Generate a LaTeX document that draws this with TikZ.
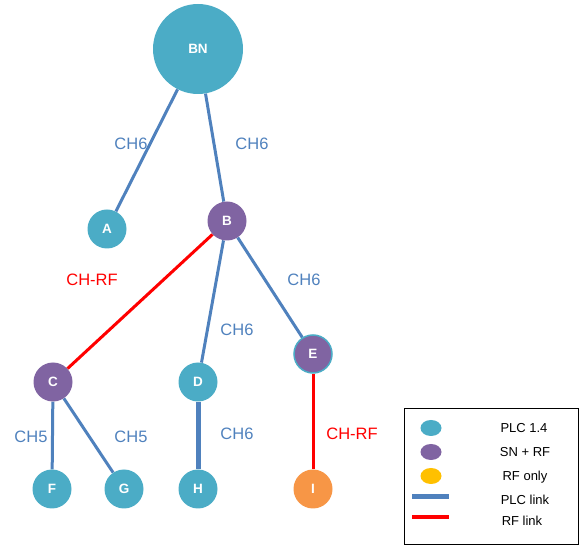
\documentclass[tikz,border=0pt]{standalone}
\usepackage{fontspec}
\setmainfont{Liberation Sans}
\usepackage{tikz}
\usetikzlibrary{shapes.geometric,positioning,backgrounds}
\definecolor{plcteal}{HTML}{4BACC6}
\definecolor{snpurple}{HTML}{8064A2}
\definecolor{rfyellow}{HTML}{FFC000}
\definecolor{rforange}{HTML}{F79646}
\definecolor{linkblue}{HTML}{4F81BD}
\tikzstyle{plclink} = [line width=3pt, linkblue]
\tikzstyle{rflink} = [line width=3pt, red]

\begin{document}
\begin{tikzpicture}
	[x=1pt, y=-1pt,
	plc/.style={circle, fill=plcteal, text=white, minimum size=39pt, inner sep=0pt, font=\bfseries\fontsize{13.5}{15}\selectfont},
	sn/.style={plc, fill=snpurple},
	rfonly/.style={plc, fill=rforange},
	chlabel/.style={text=linkblue, font=\fontsize{16.5}{19}\selectfont},
	rflabel/.style={text=red, font=\fontsize{16.5}{19}\selectfont},
	keytext/.style={font=\fontsize{13}{15}\selectfont},
	keydot/.style={ellipse, minimum width=21pt, minimum height=16pt, inner sep=0pt}]
	\useasboundingbox (0,0) rectangle (579,545);

	\node[plc, minimum size=90pt] (BN) at (198,49) {BN};
	\node[plc] (A) at (107,229) {A};
	\node[sn] (B) at (227,221) {B};
	\node[sn] (C) at (53,382) {C};
	\node[plc] (D) at (198,382) {D};
	\node[sn, draw=plcteal, line width=1.5pt, minimum size=38pt] (E) at (313,354) {E};
	\node[plc] (F) at (52,489) {F};
	\node[plc] (G) at (124,489) {G};
	\node[plc] (H) at (198,489) {H};
	\node[rfonly] (I) at (313,489) {I};

	\begin{scope}[on background layer]
	\draw[plclink] (BN) -- (A);
	\draw[plclink] (BN) -- (B);
	\draw[rflink] (B) -- (C);
	\draw[plclink] (B) -- (D);
	\draw[plclink] (B) -- (E);
	\draw[plclink] (C) -- (F);
	\draw[plclink] (C) -- (G);
	\draw[plclink, line width=5pt] (D) -- (H);
	\draw[rflink] (E) -- (I);
	\end{scope}

	\node[chlabel] (l1) at (131,144) {CH6};
	\node[chlabel] (l2) at (252,144) {CH6};
	\node[rflabel] (l3) at (92,280) {CH-RF};
	\node[chlabel] (l4) at (304,280) {CH6};
	\node[chlabel] (l5) at (237,330) {CH6};
	\node[chlabel] (l6) at (237,434) {CH6};
	\node[rflabel] (l7) at (352,434) {CH-RF};
	\node[chlabel] (l8) at (31,437) {CH5};
	\node[chlabel] (l9) at (131,437) {CH5};

	% legend
	\node[draw=black, line width=0.8pt, minimum width=174pt, minimum height=136pt, inner sep=0pt] (key) at (491,476) {};
	\node[keydot, fill=plcteal] (k1) at (431,428) {};
	\node[keydot, fill=snpurple] (k2) at (431,452) {};
	\node[keydot, fill=rfyellow] (k3) at (431,476) {};
	\coordinate (k4a) at (412,497);
	\coordinate (k4b) at (449,497);
	\coordinate (k5a) at (412,517);
	\coordinate (k5b) at (449,517);
	\draw[linkblue, line width=5pt] (k4a) -- (k4b);
	\draw[red, line width=4.5pt] (k5a) -- (k5b);
	\node[keytext] (t1) at (524,428) {PLC 1.4};
	\node[keytext] (t2) at (525,452) {SN + RF};
	\node[keytext] (t3) at (525,477) {RF only};
	\node[keytext] (t4) at (525,500) {PLC link};
	\node[keytext] (t5) at (522,521) {RF link};
\end{tikzpicture}
\end{document}
